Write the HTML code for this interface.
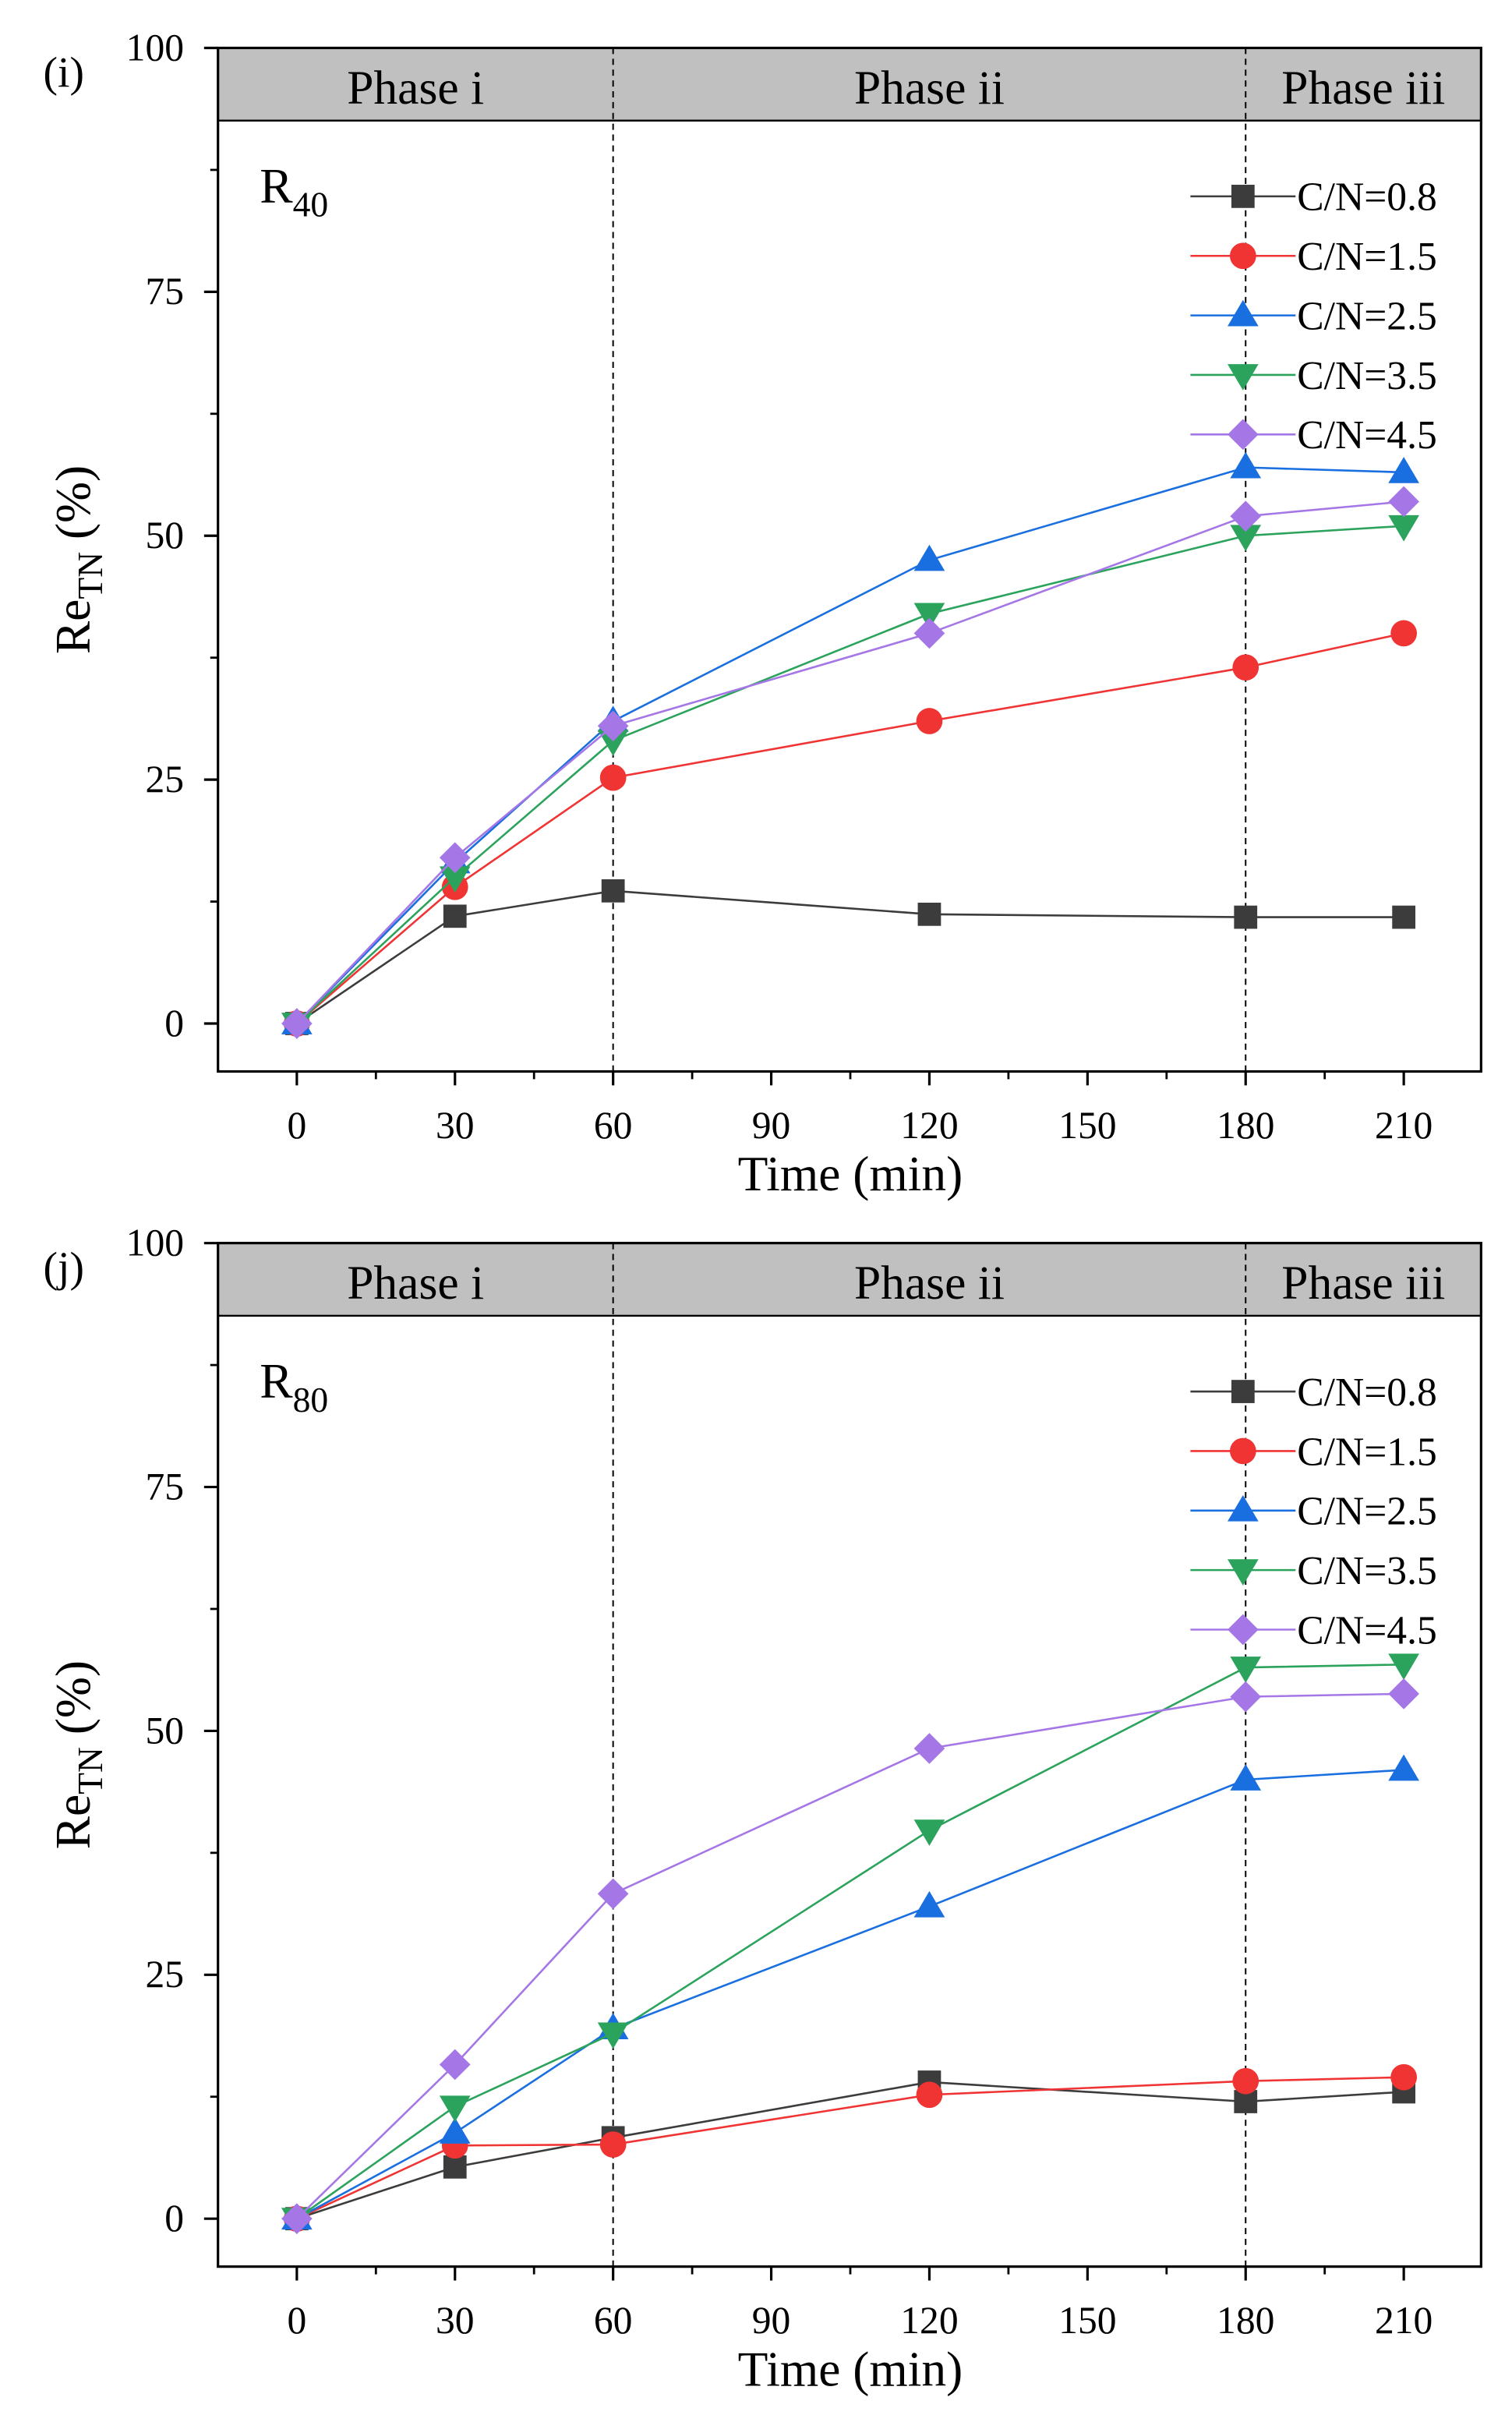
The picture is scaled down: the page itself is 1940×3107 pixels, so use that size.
<!DOCTYPE html>
<html><head><meta charset="utf-8"><style>
html,body{margin:0;padding:0;background:#fff}
svg{display:block}
text{font-family:"Liberation Serif",serif;fill:#000}
</style></head><body>
<svg id="chart" xmlns="http://www.w3.org/2000/svg" width="1940" height="3107" viewBox="0 0 978 1566.5" preserveAspectRatio="none"></svg>
<script>
const times=[0,30,60,120,180,210];
const series=["C/N=0.8","C/N=1.5","C/N=2.5","C/N=3.5","C/N=4.5"];
const colors=["#3c3c3c","#f03434","#1a6fe0","#2ca35c","#a577e6"];
const markers=["square","circle","up","down","diamond"];
const yTicks=[0,25,50,75,100];
const xTicks=[0,30,60,90,120,150,180,210];
const panelI_08=[0,11,13.6,11.2,10.9,10.9];
const panelI_15=[0,14,25.2,31,36.5,40];
const panelI_25=[0,16.5,31,47.5,57,56.5];
const panelI_35=[0,15,29,42,50,51];
const panelI_45=[0,17,30.5,40,52,53.5];
const panelJ_08=[0,5.3,8.3,14,12,13];
const panelJ_15=[0,7.5,7.6,12.7,14.1,14.5];
const panelJ_25=[0,8.8,19.5,32,45,46];
const panelJ_35=[0,11.5,19,39.8,56.5,56.8];
const panelJ_45=[0,15.8,33.3,48.2,53.5,53.8];
const phaseLabels=["Phase i","Phase ii","Phase iii"];

const svg=document.getElementById('chart');
const NS="http://www.w3.org/2000/svg";
function el(tag,attrs,parent){const e=document.createElementNS(NS,tag);for(const k in attrs)e.setAttribute(k,attrs[k]);(parent||svg).appendChild(e);return e;}

function panel(top,label,rsub,data,key){
  const g=el('g',{});
  
  
  const L=141,R=958,T=top,B=top+662;
  const y0=top+631,ppy=631/100;
  const X=t=>192+(t)*(716/210);
  const Y=v=>y0-v*ppy;
  const hb=el('rect',{x:L,y:T,width:R-L,height:47,fill:'#c0c0c0',stroke:'#000','stroke-width':1.2},g);
  
  
  const ph=[(L+X(60))/2,(X(60)+X(180))/2,(X(180)+R)/2];
  phaseLabels.forEach((p,i)=>{const t=el('text',{x:ph[i],y:T+36,'font-size':31,'text-anchor':'middle'},g);t.textContent=p;
    
    });
  el('rect',{x:L,y:T,width:R-L,height:B-T,fill:'none',stroke:'#000','stroke-width':1.6},g);
  [60,180].forEach(t=>{const d=el('line',{x1:X(t),x2:X(t),y1:T,y2:B,stroke:'#000','stroke-width':1,'stroke-dasharray':'4,3'},g);
    
    });
  yTicks.forEach(v=>{el('line',{x1:L-9,x2:L,y1:Y(v),y2:Y(v),stroke:'#000','stroke-width':1.6},g);
    const t=el('text',{x:L-22,y:Y(v)+8,'font-size':25,'text-anchor':'end'},g);t.textContent=v;
    
    });
  for(let v=12.5;v<100;v+=25)el('line',{x1:L-5,x2:L,y1:Y(v),y2:Y(v),stroke:'#000','stroke-width':1.4},g);
  xTicks.forEach(v=>{el('line',{x1:X(v),x2:X(v),y1:B,y2:B+9,stroke:'#000','stroke-width':1.6},g);
    const t=el('text',{x:X(v),y:B+43,'font-size':25,'text-anchor':'middle'},g);t.textContent=v;
    
    });
  for(let v=-15;v<=225;v+=30)if(X(v)>L&&X(v)<R)el('line',{x1:X(v),x2:X(v),y1:B,y2:B+5,stroke:'#000','stroke-width':1.4},g);
  const xt=el('text',{x:550,y:B+77,'font-size':32,'text-anchor':'middle'},g);xt.textContent='Time (min)';
  
  
  const yt=el('text',{transform:`translate(58,${T+331}) rotate(-90)`,'font-size':32,'text-anchor':'middle'},g);
  yt.innerHTML='Re<tspan font-size="23" dy="8">TN</tspan><tspan dy="-8"> (%)</tspan>';
  
  
  const pl=el('text',{x:28,y:T+25,'font-size':28},g);pl.textContent=label;
  
  
  const rl=el('text',{x:168,y:T+100,'font-size':32},g);rl.innerHTML='R<tspan font-size="23" dy="9">'+rsub+'</tspan>';
  
  
  function marker(type,x,y,c,parent){
    let m;
    if(type==='square')m=el('rect',{x:x-7.5,y:y-7.5,width:15,height:15,fill:c},parent);
    else if(type==='circle')m=el('circle',{cx:x,cy:y,r:8.5,fill:c},parent);
    else if(type==='up')m=el('polygon',{points:`${x},${y-10} ${x+10},${y+7} ${x-10},${y+7}`,fill:c},parent);
    else if(type==='down')m=el('polygon',{points:`${x},${y+10} ${x+10},${y-7} ${x-10},${y-7}`,fill:c},parent);
    else m=el('polygon',{points:`${x},${y-10} ${x+10},${y} ${x},${y+10} ${x-10},${y}`,fill:c},parent);
    return m;
  }
  data.forEach((vals,si)=>{
    const sg=el('g',{},g);
    
    
    el('polyline',{points:vals.map((v,i)=>X(times[i])+','+Y(v)).join(' '),fill:'none',stroke:colors[si],'stroke-width':1.3},sg);
    vals.forEach((v,i)=>{const m=marker(markers[si],X(times[i]),Y(v),colors[si],sg);
      
      });
    const ly=T+96+si*38.5;
    const lg=el('g',{},g);
    
    
    el('line',{x1:770,x2:838,y1:ly,y2:ly,stroke:colors[si],'stroke-width':1.3},lg);
    marker(markers[si],804,ly,colors[si],lg);
    const t=el('text',{x:839,y:ly+9,'font-size':26},lg);t.textContent=series[si];
  });
}
panel(31,'(i)','40',[panelI_08,panelI_15,panelI_25,panelI_35,panelI_45],'i');
panel(804,'(j)','80',[panelJ_08,panelJ_15,panelJ_25,panelJ_35,panelJ_45],'j');
</script>
</body></html>
